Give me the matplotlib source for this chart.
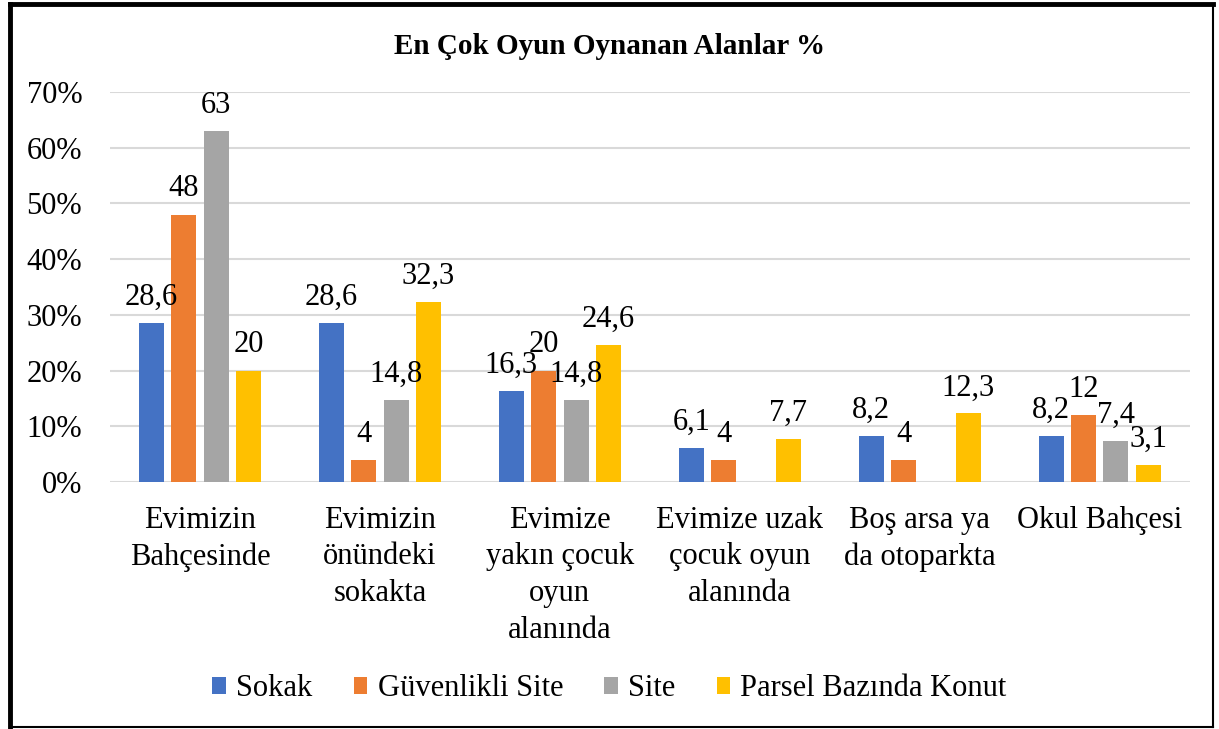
import matplotlib
matplotlib.use('Agg')
import matplotlib.pyplot as plt
from matplotlib.lines import Line2D
import numpy as np

plt.rcParams['font.family'] = ['Liberation Serif', 'DejaVu Serif']

# kategoriler ve seriler
categories = ["Evimizin\nBahçesinde", "Evimizin\nönündeki\nsokakta",
              "Evimize\nyakın çocuk\noyun\nalanında", "Evimize uzak\nçocuk oyun\nalanında",
              "Boş arsa ya\nda otoparkta", "Okul Bahçesi"]
sokak = [28.6, 28.6, 16.3, 6.1, 8.2, 8.2]
guvenlikli = [48, 4, 20, 4, 4, 12]
site = [63, 14.8, 14.8, None, None, 7.4]
parsel = [20, 32.3, 24.6, 7.7, 12.3, 3.1]
series_names = ["Sokak", "Güvenlikli Site", "Site", "Parsel Bazında Konut"]
colors = ['#4472C4', '#ED7D31', '#A5A5A5', '#FFC000']
yticks = [0, 10, 20, 30, 40, 50, 60, 70]

fig = plt.figure(figsize=(12.19, 7.29), dpi=100)
ax = fig.add_axes([0.0902, 0.3388, 0.8858, 0.535])

x = np.arange(len(categories))
step = 0.18
width = 0.139
for i, (vals, name, c) in enumerate(zip([sokak, guvenlikli, site, parsel], series_names, colors)):
    pos = x + (i - 1.5) * step
    for p, v in zip(pos, vals):
        if v is None:
            continue
        ax.bar(p, v, width, color=c, zorder=3)
        txt = ('%g' % v).replace('.', ',')
        ax.annotate(txt, (p, v), xytext=(0, 8), textcoords='offset points',
                    ha='center', va='bottom', fontsize=22, zorder=4)
    ax.bar([0], [0], 0, color=c, label=name)

ax.set_xlim(-0.5, len(categories) - 0.5)
ax.set_ylim(0, 70)
ax.set_yticks(yticks)
ax.set_yticklabels(['%d%%' % t for t in yticks], fontsize=22)
ax.set_xticks(x)
ax.set_xticklabels(categories, fontsize=22, linespacing=1.35, va='top')
ax.tick_params(axis='both', length=0)
ax.tick_params(axis='y', pad=20)
ax.tick_params(axis='x', pad=17)
ax.grid(axis='y', color='#D9D9D9', linewidth=1.5, zorder=0)
for s in ax.spines.values():
    s.set_visible(False)

fig.text(0.5, 1 - 46 / 729, "En Çok Oyun Oynanan Alanlar %", ha='center', va='center',
         fontsize=21, fontweight='bold')

fig.legend(loc='center', bbox_to_anchor=(0.5, 1 - 689 / 729), ncol=4, frameon=False,
           fontsize=22, handlelength=0.45, handleheight=0.45, handletextpad=0.33,
           columnspacing=1.35)

# cerceve
fig.add_artist(Line2D([10 / 1219, 10 / 1219], [0.003, 1 - 4 / 729], color='black', lw=3.5))
fig.add_artist(Line2D([10 / 1219, 1213 / 1219], [1 - 4 / 729, 1 - 4 / 729], color='black', lw=3.5))
fig.add_artist(Line2D([1213 / 1219, 1213 / 1219], [0.003, 1 - 4 / 729], color='black', lw=1.5))
fig.add_artist(Line2D([10 / 1219, 1213 / 1219], [0.003, 0.003], color='black', lw=1.5))

plt.savefig('out.png', dpi=100)
